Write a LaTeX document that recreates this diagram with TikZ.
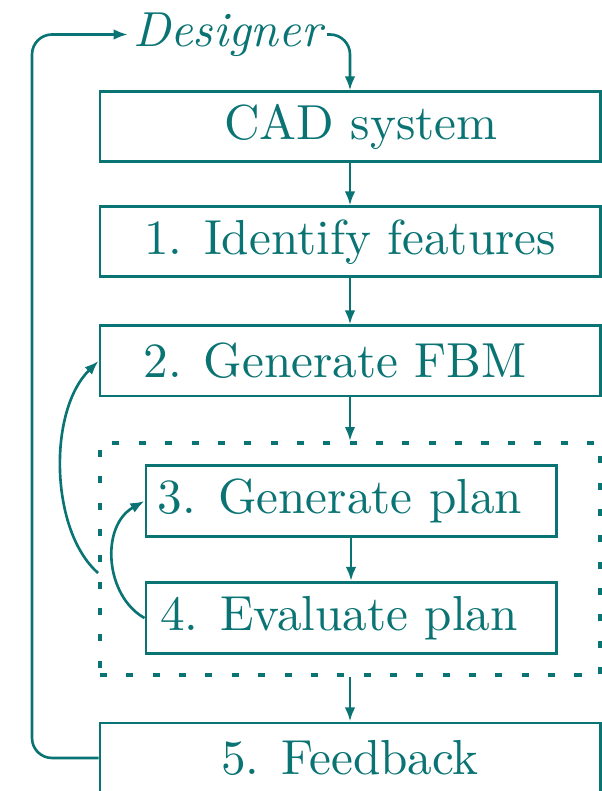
\documentclass[tikz,border=0pt]{standalone}
\usepackage{fontspec}
\setmainfont{lmroman10}[Extension=.otf, UprightFont=*-regular, ItalicFont=*-italic]
\usepackage{tikz}
\usetikzlibrary{arrows.meta}
\definecolor{ink}{RGB}{10,115,115}

\begin{document}
\begin{tikzpicture}[
    every node/.style={font=\fontsize{28}{34}\selectfont, text=ink},
    stage/.style={draw=ink, line width=1.7pt, minimum width=10cm, minimum height=1.4cm, inner sep=0pt},
    substage/.style={stage, minimum width=8.2cm, minimum height=1.42cm},
    padleft/.style={execute at begin node={\hspace*{#1}}},
    padright/.style={execute at end node={\hspace*{#1}}},
    planframe/.style={draw=ink, line width=2.2pt, dash pattern=on 4pt off 11pt, minimum width=10cm, minimum height=4.64cm, inner sep=0pt},
    flow/.style={draw=ink, line width=1.5pt, -{Latex[length=8pt,width=6pt]}}
  ]
    \useasboundingbox (0,0) rectangle (12.04,15.82);

    \node[stage, padleft=0.44cm] (cad) at (7,13.28) {CAD system};
    \node[stage] (ident) at (7,10.98) {1. Identify features};
    \node[stage, padright=0.6cm] (fbm) at (7,8.6) {2. Generate FBM};
    \node[planframe] (loop) at (7,4.64) {};
    \node[substage, padright=0.44cm] (plan) at (7.02,5.8) {3. Generate plan};
    \node[substage, padright=0.48cm] (eval) at (7.02,3.46) {4. Evaluate plan};
    \node[stage] (feedback) at (7,0.66) {5. Feedback};
    \node[font=\fontsize{28}{34}\selectfont\itshape, inner sep=0.1cm] (designer) at (4.55,15.13) {Designer};

    \draw[flow] (cad) -- (ident);
    \draw[flow] (ident) -- (fbm);
    \draw[flow] (fbm.south) -- (loop.north);
    \draw[flow] (plan) -- (eval);
    \draw[flow] (loop.south) -- (feedback.north);

    \draw[flow, rounded corners=0.4cm] (feedback.west) -| (0.64,15.13) -- (designer.west);
    \draw[flow, rounded corners=0.4cm] (designer.east) -| (cad.north);

    \draw[flow] ([yshift=-0.28cm]loop.west) .. controls (1.0,5.2) and (0.95,7.6) .. (fbm.west);
    \draw[flow] (eval.west) .. controls (2.1,3.9) and (2.0,5.3) .. (plan.west);
\end{tikzpicture}
\end{document}
